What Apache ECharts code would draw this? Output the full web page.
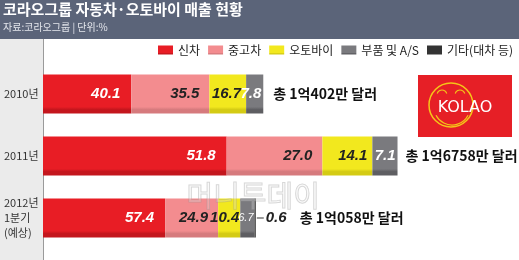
<!DOCTYPE html>
<html><head><meta charset="utf-8">
<script src="https://cdn.jsdelivr.net/npm/echarts@6/dist/echarts.min.js"></script>
<style>html,body{margin:0;padding:0;background:#fff}#c{width:519px;height:260px}</style>
</head><body><div id="c"></div>
<script>
const categories = ['2010년', '2011년', '2012년\n1분기\n(예상)'];
const seriesNames = ['신차', '중고차', '오토바이', '부품 및 A/S', '기타(대차 등)'];
const newCar = [40.1, 51.8, 57.4];
const usedCar = [35.5, 27.0, 24.9];
const motorbike = [16.7, 14.1, 10.4];
const parts = [7.8, 7.1, 6.7];
const others = [0, 0, 0.6];
const totals = [10402, 16758, 10058]; // 만 달러
const totalLabels = ['총 1억402만 달러', '총 1억6758만 달러', '총 1억058만 달러'];

const colors = ['#e81d25', '#f38c8f', '#f2e81e', '#7a7a7e', '#333333'];
const darker = ['#c4161d', '#d67a7d', '#d4cb14', '#5e5e62', '#222222'];
const labelColors = ['#fff', '#222', '#222', '#fff', '#222'];
const labelDist = [11, 10, 5, 2, 3];
const pctSets = [newCar, usedCar, motorbike, parts, others];

const numFont = '"Liberation Sans",Arial,sans-serif';
const krFont = '"Noto Sans CJK KR","Noto Sans",sans-serif';

function grad(i){
  return {type:'linear',x:0,y:0,x2:0,y2:1,colorStops:[
    {offset:0,color:colors[i]},{offset:0.83,color:colors[i]},
    {offset:0.9,color:darker[i]},{offset:1,color:darker[i]}]};
}

const series = pctSets.map((pcts, i) => ({
  name: seriesNames[i], type: 'bar', stack: 'all', barWidth: 39,
  itemStyle: {color: grad(i)},
  data: pcts.map((p, j) => {
    const item = {value: p * totals[j] / 100};
    if (i === 4) {
      item.label = {show: p > 0, position: 'right', distance: 1,
        formatter: '{l|}{v|' + p.toFixed(1) + '}',
        rich: {l: {width: 7, height: 1, backgroundColor: '#333'},
               v: {color: '#222', fontSize: 15, fontStyle: 'italic', fontWeight: 'bold', fontFamily: numFont, padding: [0,0,0,2]}}};
    } else if (j === 2 && i === 2) {
      item.label = {distance: 1};
    } else if (j === 2 && i === 3) {
      item.label = {distance: 1, fontSize: 11, fontWeight: 'normal'};
    }
    return item;
  }),
  label: i === 4 ? {show: false} : {
    show: true, position: 'insideRight', distance: labelDist[i],
    color: labelColors[i], fontSize: 15, fontStyle: 'italic', fontWeight: 'bold', fontFamily: numFont,
    formatter: (prm) => pcts[prm.dataIndex].toFixed(1)
  },
  emphasis: {disabled: true}
}));
series[4].itemStyle = {color: colors[4]};
const totalDist = [10, 8, 44];
series.push({
  name: 'total', type: 'bar', stack: 'all', barWidth: 39,
  data: totals.map((t, j) => ({value: 0, label: {distance: totalDist[j]}})),
  label: {show: true, position: 'right', color: '#111', fontSize: 14, fontWeight: 'bold', fontFamily: krFont,
    formatter: (prm) => totalLabels[prm.dataIndex]},
  itemStyle: {color: 'transparent'}, emphasis: {disabled: true}
});

const chart = echarts.init(document.getElementById('c'), null, {renderer: 'canvas'});
chart.setOption({
  animation: false,
  backgroundColor: '#fff',
  grid: {left: 43, right: 0, top: 63, bottom: 11, containLabel: false},
  xAxis: {type: 'value', min: 0, max: 22500, show: false},
  yAxis: {type: 'category', data: categories, inverse: true,
    axisLine: {show: false}, axisTick: {show: false}, splitLine: {show: false},
    axisLabel: {align: 'left', margin: 39, color: '#333', fontSize: 11, fontFamily: krFont, lineHeight: 15}},
  legend: {
    data: seriesNames, right: 6, top: 44, padding: 0, itemWidth: 15, itemHeight: 9, itemGap: 8,
    icon: 'rect', textStyle: {color: '#222', fontSize: 12, fontFamily: krFont},
    selectedMode: false
  },
  graphic: [
    {type: 'rect', z: -10, shape: {x: 0, y: 0, width: 519, height: 39}, style: {fill: '#5b6479'}},
    {type: 'rect', z: -10, shape: {x: 0, y: 39, width: 43, height: 221}, style: {fill: '#ebebeb'}},
    {type: 'line', z: -9, shape: {x1: 43.5, y1: 39, x2: 43.5, y2: 260}, style: {stroke: '#9a9a9a', lineWidth: 1}},
    {type: 'text', left: 3, top: 2, style: {text: '코라오그룹 자동차·오토바이 매출 현황', fill: '#fff', fontSize: 15, fontWeight: 'bold', fontFamily: krFont}},
    {type: 'text', left: 3, top: 22, style: {text: '자료:코라오그룹 | 단위:%', fill: '#e4e6ec', fontSize: 10, fontFamily: krFont}},
    {type: 'group', z: 20, children: [
      {type: 'rect', shape: {x: 418, y: 75, width: 94, height: 62}, style: {fill: '#e61f26'}},
      {type: 'arc', shape: {cx: 451, cy: 105, r: 22, startAngle: 0, endAngle: Math.PI * 2}, style: {stroke: '#f5c518', lineWidth: 1.5, fill: null}},
      {type: 'arc', shape: {cx: 452, cy: 107, r: 18, startAngle: Math.PI * 0.15, endAngle: Math.PI * 0.85}, style: {stroke: '#f5c518', lineWidth: 1.2, fill: null}},
      {type: 'arc', shape: {cx: 442, cy: 95, r: 5, startAngle: Math.PI * 1.1, endAngle: Math.PI * 1.9}, style: {stroke: '#f5c518', lineWidth: 1.2, fill: null}},
      {type: 'arc', shape: {cx: 460, cy: 95, r: 5, startAngle: Math.PI * 1.1, endAngle: Math.PI * 1.9}, style: {stroke: '#f5c518', lineWidth: 1.2, fill: null}},
      {type: 'text', x: 465, y: 108, style: {text: 'KOLAO', fill: '#fff', fontSize: 16, fontFamily: '"DejaVu Sans",sans-serif', align: 'center', verticalAlign: 'middle'}}
    ]},
    {type: 'text', z: 30, left: 186, top: 181, style: {text: '머니투데이', fill: 'rgba(235,235,235,0.25)', stroke: 'rgba(150,150,150,0.4)', lineWidth: 1, fontSize: 29, fontFamily: krFont}}
  ],
  series: series
});
</script></body></html>
